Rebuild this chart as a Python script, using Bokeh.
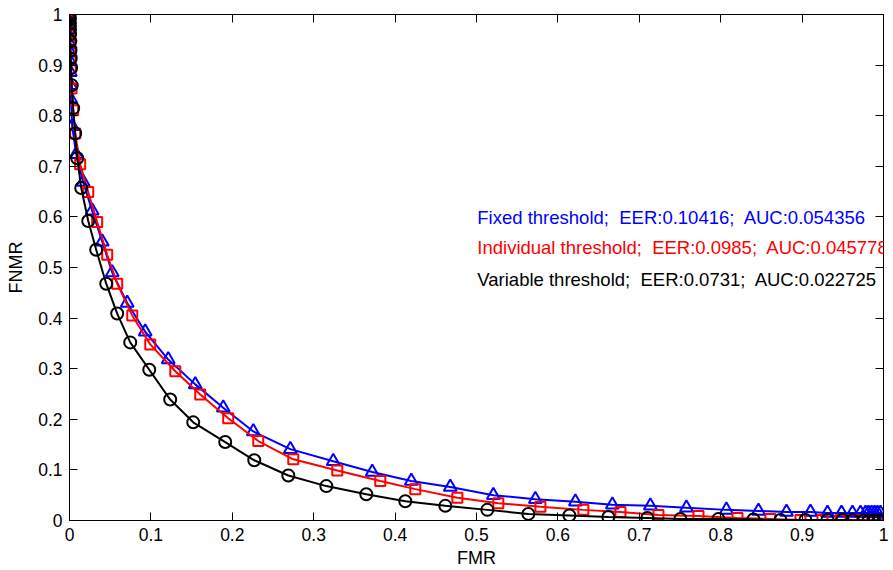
from bokeh.plotting import figure
from bokeh.models import Range1d, LinearAxis, FixedTicker, CustomJSTickFormatter, Label
from bokeh.embed import file_html
from bokeh.resources import INLINE

# ---- data ----
fmr_fix = [0, 0.0001, 0.0002, 0.0003, 0.0004, 0.0005, 0.0006, 0.0007, 0.0008, 0.0009,
           0.0010, 0.0012, 0.0018, 0.0033, 0.0082, 0.0168, 0.0279, 0.0402, 0.0525, 0.0709,
           0.0930, 0.1213, 0.1545, 0.1889, 0.2258, 0.2713, 0.3240, 0.3719, 0.4199, 0.4678,
           0.5207, 0.5723, 0.6215, 0.6669, 0.7136, 0.7579, 0.8070, 0.8464, 0.8808, 0.9103,
           0.9312, 0.9484, 0.9619, 0.9717, 0.9779, 0.9816, 0.9853, 0.9890, 0.9926, 0.9963, 1.0]
fnmr_fix = [1.0, 0.996, 0.990, 0.984, 0.976, 0.967, 0.955, 0.941, 0.925, 0.907,
            0.886, 0.860, 0.832, 0.779, 0.724, 0.669, 0.612, 0.551, 0.490, 0.430,
            0.373, 0.318, 0.269, 0.223, 0.176, 0.141, 0.117, 0.096, 0.078, 0.066,
            0.050, 0.042, 0.037, 0.031, 0.029, 0.025, 0.021, 0.019, 0.017, 0.017,
            0.015, 0.015, 0.015, 0.015, 0.015, 0.015, 0.015, 0.015, 0.015, 0.015, 0.0]

fmr_ind = [0, 0.0001, 0.0002, 0.0003, 0.0004, 0.0006, 0.0008, 0.0010, 0.0012, 0.0015,
           0.0025, 0.0045, 0.0070, 0.0131, 0.0230, 0.0340, 0.0463, 0.0586, 0.0771, 0.0992,
           0.1300, 0.1606, 0.1950, 0.2319, 0.2749, 0.3290, 0.3818, 0.4248, 0.4765, 0.5268,
           0.5785, 0.6313, 0.6768, 0.7235, 0.7727, 0.8206, 0.8611, 0.8980, 0.9250, 0.9471,
           0.9631, 0.9742, 0.9816, 0.9877, 0.9939, 1.0]
fnmr_ind = [1.0, 0.994, 0.988, 0.980, 0.970, 0.959, 0.945, 0.929, 0.913, 0.894,
            0.854, 0.811, 0.765, 0.704, 0.649, 0.590, 0.525, 0.468, 0.405, 0.348,
            0.295, 0.249, 0.202, 0.157, 0.121, 0.099, 0.078, 0.062, 0.045, 0.034,
            0.027, 0.021, 0.017, 0.011, 0.009, 0.005, 0.003, 0.001, 0.001, 0.001,
            0.001, 0.001, 0.0, 0.0, 0.0, 0.0]

fmr_var = [0, 0.0001, 0.0002, 0.0003, 0.0005, 0.0007, 0.0009, 0.0012, 0.0015, 0.0019,
           0.0028, 0.0045, 0.0070, 0.0095, 0.0144, 0.0230, 0.0328, 0.0451, 0.0586, 0.0746,
           0.0980, 0.1237, 0.1520, 0.1913, 0.2270, 0.2688, 0.3155, 0.3646, 0.4125, 0.4617,
           0.5133, 0.5637, 0.6141, 0.6620, 0.7099, 0.7505, 0.7972, 0.8402, 0.8734, 0.9041,
           0.9312, 0.9496, 0.9619, 0.9754, 0.9816, 0.9877, 0.9939, 1.0]
fnmr_var = [1.0, 0.996, 0.990, 0.982, 0.972, 0.961, 0.947, 0.929, 0.913, 0.894,
            0.860, 0.815, 0.765, 0.716, 0.657, 0.592, 0.535, 0.468, 0.409, 0.352,
            0.298, 0.239, 0.194, 0.155, 0.119, 0.089, 0.068, 0.052, 0.038, 0.029,
            0.021, 0.013, 0.010, 0.007, 0.005, 0.003, 0.003, 0.002, 0.001, 0.001,
            0.001, 0.001, 0.0005, 0.0, 0.0, 0.0, 0.0, 0.0]

ticks = [0, 0.1, 0.2, 0.3, 0.4, 0.5, 0.6, 0.7, 0.8, 0.9, 1.0]

SP = "\u00a0 "  # two visible spaces (non-breaking + normal, so SVG keeps both)
labels = ["Fixed threshold;" + SP + "EER:0.10416;" + SP + "AUC:0.054356",
          "Individual threshold;" + SP + "EER:0.0985;" + SP + "AUC:0.045778",
          "Variable threshold;" + SP + "EER:0.0731;" + SP + "AUC:0.022725"]
label_colors = ["#0000ff", "#ff0000", "#000000"]

FONT = "Liberation Sans"

p = figure(width=893, height=570, output_backend="svg", toolbar_location=None,
           x_range=Range1d(0, 1), y_range=Range1d(0, 1),
           min_border_left=69, min_border_right=10, min_border_top=14, min_border_bottom=48,
           x_axis_label="FMR", y_axis_label="FNMR")
p.background_fill_color = "white"
p.border_fill_color = "white"
p.outline_line_color = "black"
p.xgrid.visible = False
p.ygrid.visible = False

fmt = CustomJSTickFormatter(code="return String(Math.round(tick*10)/10);")
blank = CustomJSTickFormatter(code="return '';")

for ax in (p.xaxis[0], p.yaxis[0]):
    ax.ticker = FixedTicker(ticks=ticks)
    ax.formatter = fmt
    ax.major_tick_in = 8
    ax.major_tick_out = 0
    ax.minor_tick_line_color = None
    ax.axis_line_color = "black"
    ax.major_tick_line_color = "black"
    ax.major_label_text_font = FONT
    ax.major_label_text_font_size = "17.5px"
    ax.major_label_text_color = "black"
    ax.major_label_standoff = 7
    ax.axis_label_text_font = FONT
    ax.axis_label_text_font_size = "18px"
    ax.axis_label_text_font_style = "normal"
    ax.axis_label_text_color = "black"
p.xaxis[0].axis_label_standoff = 4
p.yaxis[0].axis_label_standoff = 9

for loc in ("right", "above"):
    ax = LinearAxis(ticker=FixedTicker(ticks=ticks), formatter=blank,
                    major_label_standoff=0, major_tick_in=8, major_tick_out=0,
                    minor_tick_line_color=None, axis_line_color="black",
                    major_tick_line_color="black")
    p.add_layout(ax, loc)

# series (blue first, then red, black on top)
p.line(fmr_fix, fnmr_fix, line_color="#0000ff", line_width=2)
p.scatter(fmr_fix, fnmr_fix, marker="triangle", size=13, line_color="#0000ff",
          fill_color=None, line_width=2)
p.line(fmr_ind, fnmr_ind, line_color="#ff0000", line_width=2)
p.scatter(fmr_ind, fnmr_ind, marker="square", size=10, line_color="#ff0000",
          fill_color=None, line_width=2)
p.line(fmr_var, fnmr_var, line_color="#000000", line_width=2)
p.scatter(fmr_var, fnmr_var, marker="circle", size=12, line_color="#000000",
          fill_color=None, line_width=2)

label_y = [0.598, 0.539, 0.476]
for txt, col, yy in zip(labels, label_colors, label_y):
    p.add_layout(Label(x=0.501, y=yy, text=txt, text_color=col, text_font=FONT,
                       text_font_size="18.5px", text_baseline="alphabetic",
                       text_align="left"))

open("out.html", "w").write(file_html(p, INLINE))
